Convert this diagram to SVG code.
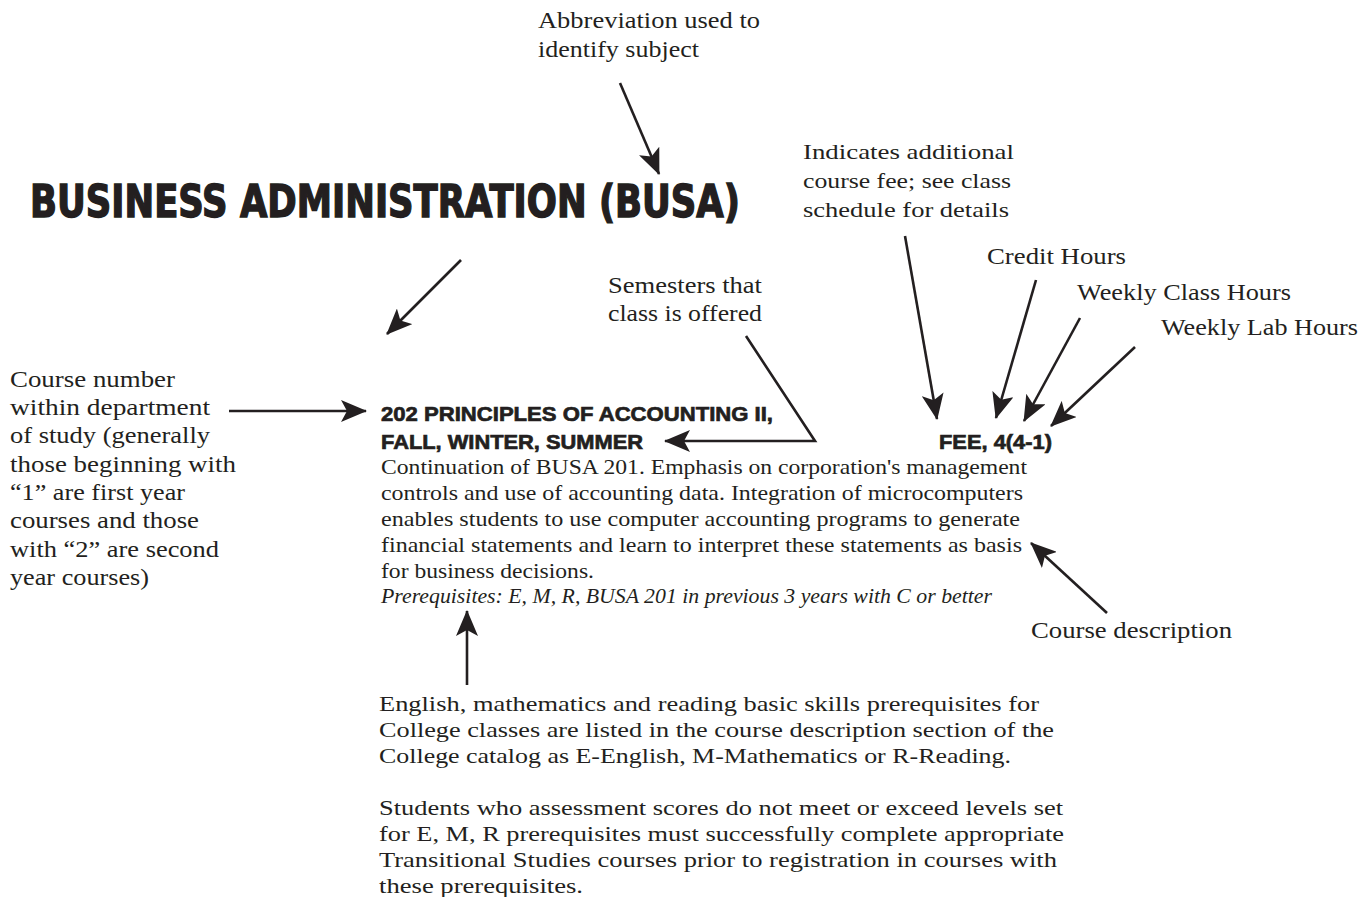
<svg xmlns="http://www.w3.org/2000/svg" width="1371" height="897" viewBox="0 0 1371 897">
<style>
  .bg { fill: #ffffff; }
  .ann { font-family: "Liberation Serif", "DejaVu Serif", serif; font-size: 23px; fill: #231f20; }
  .ann-s { font-family: "Liberation Serif", "DejaVu Serif", serif; font-size: 22px; fill: #231f20; }
  .body { font-family: "Liberation Serif", "DejaVu Serif", serif; font-size: 22px; fill: #231f20; }
  .ital { font-family: "Liberation Serif", "DejaVu Serif", serif; font-size: 21px; font-style: italic; fill: #231f20; }
  .head { font-family: "Liberation Sans", "DejaVu Sans", sans-serif; font-size: 21px; font-weight: 900; fill: #231f20; stroke: #231f20; stroke-width: 0.7; }
  .title { font-family: "Liberation Sans Narrow", "DejaVu Sans Condensed", "Liberation Sans", sans-serif; font-size: 45px; font-weight: 900; fill: #231f20; stroke: #231f20; stroke-width: 1.4; }
  .conn { fill: none; stroke: #231f20; stroke-width: 2.6; marker-end: url(#arrow); }
</style>
<defs>
  <marker id="arrow" viewBox="0 0 26 22" refX="25" refY="11" markerWidth="26" markerHeight="22" markerUnits="userSpaceOnUse" orient="auto">
    <path d="M0,0 L26,11 L0,22 L6,11 Z" fill="#231f20"/>
  </marker>
</defs>
<rect class="bg" x="0" y="0" width="1371" height="897"/>

<g id="title">
  <text class="title" x="30" y="217" textLength="710" lengthAdjust="spacingAndGlyphs">BUSINESS ADMINISTRATION (BUSA)</text>
</g>

<g id="abbrev-label">
  <text class="ann" x="538" y="28" textLength="222" lengthAdjust="spacingAndGlyphs">Abbreviation used to</text>
  <text class="ann" x="538" y="57" textLength="161" lengthAdjust="spacingAndGlyphs">identify subject</text>
</g>

<g id="fee-label">
  <text class="ann-s" x="803" y="159" textLength="211" lengthAdjust="spacingAndGlyphs">Indicates additional</text>
  <text class="ann-s" x="803" y="188" textLength="208" lengthAdjust="spacingAndGlyphs">course fee; see class</text>
  <text class="ann-s" x="803" y="217" textLength="206" lengthAdjust="spacingAndGlyphs">schedule for details</text>
</g>

<g id="credit-label">
  <text class="ann" x="987" y="264" textLength="139" lengthAdjust="spacingAndGlyphs">Credit Hours</text>
</g>
<g id="class-hours-label">
  <text class="ann" x="1077" y="300" textLength="214" lengthAdjust="spacingAndGlyphs">Weekly Class Hours</text>
</g>
<g id="lab-hours-label">
  <text class="ann" x="1161" y="335" textLength="197" lengthAdjust="spacingAndGlyphs">Weekly Lab Hours</text>
</g>

<g id="semesters-label">
  <text class="ann" x="608" y="293" textLength="154" lengthAdjust="spacingAndGlyphs">Semesters that</text>
  <text class="ann" x="608" y="321" textLength="154" lengthAdjust="spacingAndGlyphs">class is offered</text>
</g>

<g id="course-number-label">
  <text class="ann" x="10" y="387" textLength="165" lengthAdjust="spacingAndGlyphs">Course number</text>
  <text class="ann" x="10" y="415" textLength="200" lengthAdjust="spacingAndGlyphs">within department</text>
  <text class="ann" x="10" y="443" textLength="200" lengthAdjust="spacingAndGlyphs">of study (generally</text>
  <text class="ann" x="10" y="472" textLength="226" lengthAdjust="spacingAndGlyphs">those beginning with</text>
  <text class="ann" x="10" y="500" textLength="175" lengthAdjust="spacingAndGlyphs">“1” are first year</text>
  <text class="ann" x="10" y="528" textLength="189" lengthAdjust="spacingAndGlyphs">courses and those</text>
  <text class="ann" x="10" y="557" textLength="209" lengthAdjust="spacingAndGlyphs">with “2” are second</text>
  <text class="ann" x="10" y="585" textLength="139" lengthAdjust="spacingAndGlyphs">year courses)</text>
</g>

<g id="course-entry">
  <text class="head" x="381" y="421" textLength="392" lengthAdjust="spacingAndGlyphs">202 PRINCIPLES OF ACCOUNTING II,</text>
  <text class="head" x="381" y="449" textLength="262" lengthAdjust="spacingAndGlyphs">FALL, WINTER, SUMMER</text>
  <text class="head" x="939" y="449" textLength="113" lengthAdjust="spacingAndGlyphs">FEE, 4(4-1)</text>
  <text class="body" x="381" y="474" textLength="646" lengthAdjust="spacingAndGlyphs">Continuation of BUSA 201. Emphasis on corporation's management</text>
  <text class="body" x="381" y="500" textLength="642" lengthAdjust="spacingAndGlyphs">controls and use of accounting data. Integration of microcomputers</text>
  <text class="body" x="381" y="526" textLength="639" lengthAdjust="spacingAndGlyphs">enables students to use computer accounting programs to generate</text>
  <text class="body" x="381" y="552" textLength="641" lengthAdjust="spacingAndGlyphs">financial statements and learn to interpret these statements as basis</text>
  <text class="body" x="381" y="578" textLength="213" lengthAdjust="spacingAndGlyphs">for business decisions.</text>
  <text class="ital" x="381" y="603" textLength="611" lengthAdjust="spacingAndGlyphs">Prerequisites: E, M, R, BUSA 201 in previous 3 years with C or better</text>
</g>

<g id="description-label">
  <text class="ann" x="1031" y="638" textLength="201" lengthAdjust="spacingAndGlyphs">Course description</text>
</g>

<g id="prereq-note">
  <text class="body" x="379" y="711" textLength="660" lengthAdjust="spacingAndGlyphs">English, mathematics and reading basic skills prerequisites for</text>
  <text class="body" x="379" y="737" textLength="675" lengthAdjust="spacingAndGlyphs">College classes are listed in the course description section of the</text>
  <text class="body" x="379" y="763" textLength="632" lengthAdjust="spacingAndGlyphs">College catalog as E-English, M-Mathematics or R-Reading.</text>
  <text class="body" x="379" y="815" textLength="684" lengthAdjust="spacingAndGlyphs">Students who assessment scores do not meet or exceed levels set</text>
  <text class="body" x="379" y="841" textLength="685" lengthAdjust="spacingAndGlyphs">for E, M, R prerequisites must successfully complete appropriate</text>
  <text class="body" x="379" y="867" textLength="678" lengthAdjust="spacingAndGlyphs">Transitional Studies courses prior to registration in courses with</text>
  <text class="body" x="379" y="893" textLength="204" lengthAdjust="spacingAndGlyphs">these prerequisites.</text>
</g>

<g id="connectors">
  <line class="conn" x1="620" y1="83" x2="659" y2="174"/>
  <line class="conn" x1="461" y1="260" x2="387" y2="334"/>
  <line class="conn" x1="229" y1="411" x2="366" y2="411"/>
  <polyline class="conn" points="746,336 815,441 665,441"/>
  <line class="conn" x1="905" y1="236" x2="937" y2="419"/>
  <line class="conn" x1="1036" y1="280" x2="996" y2="418"/>
  <line class="conn" x1="1080" y1="318" x2="1024" y2="421"/>
  <line class="conn" x1="1135" y1="347" x2="1051" y2="426"/>
  <line class="conn" x1="1107" y1="613" x2="1031" y2="543"/>
  <line class="conn" x1="467" y1="685" x2="467" y2="611"/>
</g>
</svg>
